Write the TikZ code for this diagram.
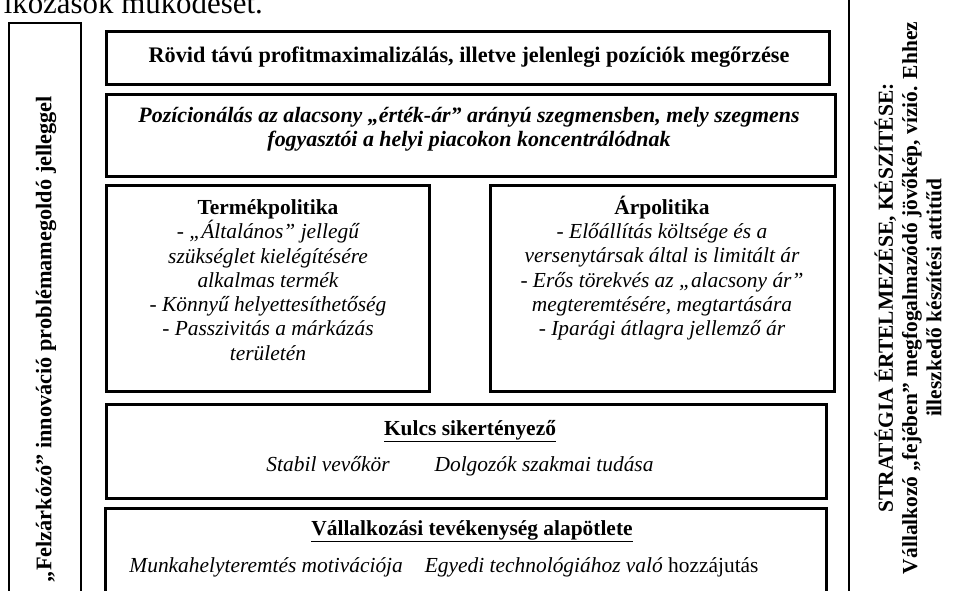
\documentclass[tikz,border=0pt]{standalone}
\usepackage{fontspec}
\setmainfont{Liberation Serif}
\begin{document}
\begin{tikzpicture}[x=1bp,y=-1bp,
  box/.style={draw, line width=2.6bp, inner sep=0pt, anchor=north west},
  side/.style={draw, line width=1.6bp, inner sep=0pt, anchor=north west},
  txt/.style={font=\fontsize{21.5}{24.4}\selectfont, align=center, inner sep=0pt},
  big/.style={font=\fontsize{22.3}{24.4}\selectfont, align=center, inner sep=0pt},
  sidetxt/.style={font=\fontsize{21.5}{24.4}\selectfont\bfseries, align=center, inner sep=0pt, rotate=90}]
\useasboundingbox (0,0) rectangle (957,591);
\clip (0,0) rectangle (957,591);
% partial line of running text at the top
\node[font=\fontsize{31}{36}\selectfont, inner sep=0pt, anchor=base east] (top) at (263,14) {lkozások működését.};
% side boxes
\node[side, minimum width=72bp, minimum height=620bp] (lbox) at (8,22) {};
\node[side, minimum width=200bp, minimum height=700bp] (rbox) at (848,-40) {};
\node[sidetxt, font=\fontsize{22.4}{24.4}\selectfont\bfseries] (ltxt) at (46,339) {„Felzárkózó” innováció problémamegoldó jelleggel};
\node[sidetxt] (rtxt) at (908,298) {STRATÉGIA ÉRTELMEZÉSE, KÉSZÍTÉSE:\\Vállalkozó „fejében” megfogalmazódó jövőkép, vízió. Ehhez\\illeszkedő készítési attitűd};
% central boxes
\node[box, minimum width=723bp, minimum height=53bp] (b1) at (105,30) {};
\node[box, minimum width=729bp, minimum height=82bp] (b2) at (105,93) {};
\node[box, minimum width=323bp, minimum height=206bp] (b3) at (105,184) {};
\node[box, minimum width=344bp, minimum height=206bp] (b4) at (489,184) {};
\node[box, minimum width=720bp, minimum height=94bp] (b5) at (105,403) {};
\node[box, minimum width=721bp, minimum height=120bp] (b6) at (104,507) {};
% texts
\node[big, font=\fontsize{22.3}{24.4}\selectfont\bfseries] (t1) at (469,57) {Rövid távú profitmaximalizálás, illetve jelenlegi pozíciók megőrzése};
\node[big, font=\fontsize{22}{24.4}\selectfont\bfseries\itshape] (t2) at (469,129) {Pozícionálás az alacsony „érték-ár” arányú szegmensben, mely szegmens\\fogyasztói a helyi piacokon koncentrálódnak};
\node[txt] (t3) at (268,280) {\textbf{Termékpolitika}\\\itshape - „Általános” jellegű\\\itshape szükséglet kielégítésére\\\itshape alkalmas termék\\\itshape - Könnyű helyettesíthetőség\\\itshape - Passzivitás a márkázás\\\itshape területén};
\node[txt] (t4) at (662,268) {\textbf{Árpolitika}\\\itshape - Előállítás költsége és a\\\itshape versenytársak által is limitált ár\\\itshape - Erős törekvés az „alacsony ár”\\\itshape megteremtésére, megtartására\\\itshape - Iparági átlagra jellemző ár};
\node[txt] (t5) at (470,431) {\textbf{\underline{Kulcs sikertényező}}};
\node[txt, anchor=base, font=\fontsize{21.5}{24.4}\selectfont\itshape] (t5a) at (460,471) {Stabil vevőkör\hspace{45bp}Dolgozók szakmai tudása};
\node[txt] (t6) at (472,531) {\textbf{\underline{Vállalkozási tevékenység alapötlete}}};
\node[txt, anchor=base] (t6a) at (444,572) {\textit{Munkahelyteremtés motivációja}\hspace{22bp}\textit{Egyedi technológiához való} hozzájutás};
\end{tikzpicture}
\end{document}
